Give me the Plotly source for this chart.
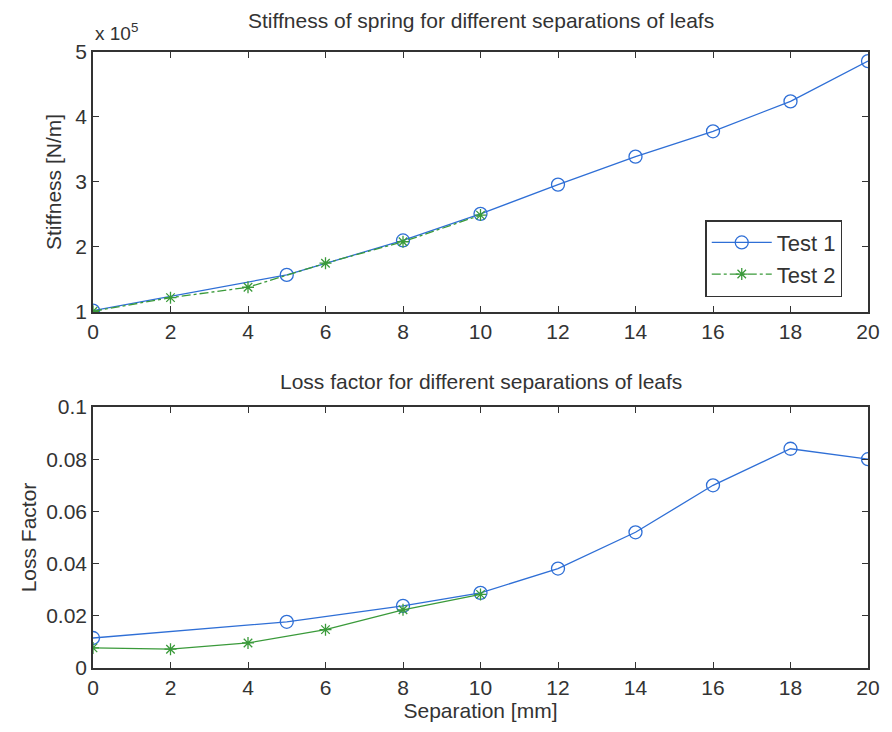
import plotly.graph_objects as go
from plotly.subplots import make_subplots

# Data
sep_test1 = [0, 5, 8, 10, 12, 14, 16, 18, 20]
stiff_test1 = [1.02e5, 1.57e5, 2.10e5, 2.51e5, 2.96e5, 3.39e5, 3.78e5, 4.24e5, 4.86e5]
loss_test1 = [0.0115, 0.0177, 0.0238, 0.0288, 0.0381, 0.052, 0.070, 0.084, 0.080]

sep_test2 = [0, 2, 4, 6, 8, 10]
stiff_test2 = [1.01e5, 1.22e5, 1.38e5, 1.75e5, 2.08e5, 2.49e5]
loss_test2 = [0.0077, 0.0072, 0.0096, 0.0147, 0.0223, 0.0282]

x_ticks = list(range(0, 21, 2))

BLUE = "#2f6fd6"
GREEN = "#3a9a3a"
INK = "#333333"
FONT = "Liberation Sans, Arial, sans-serif"

fig = make_subplots(rows=2, cols=1, vertical_spacing=0.1545)

fig.add_trace(go.Scatter(x=sep_test1, y=stiff_test1, mode="lines+markers", name="Test 1",
                         line=dict(color=BLUE, width=1.3),
                         marker=dict(symbol="circle-open", size=13, color=BLUE, line=dict(width=1.3))),
              row=1, col=1)
fig.add_trace(go.Scatter(x=sep_test2, y=stiff_test2, mode="lines+markers", name="Test 2",
                         line=dict(color=GREEN, width=1.3, dash="dashdot"),
                         marker=dict(symbol="asterisk-open", size=10, color=GREEN, line=dict(width=1.3, color=GREEN))),
              row=1, col=1)
fig.add_trace(go.Scatter(x=sep_test1, y=loss_test1, mode="lines+markers", name="Test 1", showlegend=False,
                         line=dict(color=BLUE, width=1.3),
                         marker=dict(symbol="circle-open", size=13, color=BLUE, line=dict(width=1.3))),
              row=2, col=1)
fig.add_trace(go.Scatter(x=sep_test2, y=loss_test2, mode="lines+markers", name="Test 2", showlegend=False,
                         line=dict(color=GREEN, width=1.3),
                         marker=dict(symbol="asterisk-open", size=10, color=GREEN, line=dict(width=1.3, color=GREEN))),
              row=2, col=1)

axis_common = dict(showline=True, linecolor=INK, linewidth=1.5, mirror="allticks",
                   ticks="inside", ticklen=6, tickcolor=INK, showgrid=False, zeroline=False,
                   tickfont=dict(size=21, color=INK, family=FONT))

fig.update_xaxes(range=[0, 20], tickvals=x_ticks, domain=[0, 1], **axis_common)
fig.update_yaxes(**axis_common)

fig.update_yaxes(range=[1e5, 5e5], tickvals=[1e5, 2e5, 3e5, 4e5, 5e5], ticktext=["1", "2", "3", "4", "5"],
                 domain=[0.578, 1.0], row=1, col=1,
                 title=dict(text="Stiffness [N/m]", font=dict(size=21, color=INK, family=FONT), standoff=8))
fig.update_yaxes(range=[0, 0.1], tickvals=[0, 0.02, 0.04, 0.06, 0.08, 0.1],
                 ticktext=["0", "0.02", "0.04", "0.06", "0.08", "0.1"],
                 domain=[0.0, 0.4237], row=2, col=1,
                 title=dict(text="Loss Factor", font=dict(size=21, color=INK, family=FONT), standoff=4))
fig.update_xaxes(row=2, col=1,
                 title=dict(text="Separation [mm]", font=dict(size=21, color=INK, family=FONT), standoff=2))

fig.add_annotation(text="x 10<sup>5</sup>", xref="paper", yref="paper", x=0.0, y=1.0,
                   xanchor="left", yanchor="bottom", yshift=6, showarrow=False,
                   font=dict(size=19, color=INK, family=FONT))
fig.add_annotation(text="Stiffness of spring for different separations of leafs", xref="paper", yref="paper",
                   x=0.5, y=1.0, xanchor="center", yanchor="bottom", yshift=18, showarrow=False,
                   font=dict(size=21, color=INK, family=FONT))
fig.add_annotation(text="Loss factor for different separations of leafs", xref="paper", yref="paper",
                   x=0.5, y=0.4237, xanchor="center", yanchor="bottom", yshift=12, showarrow=False,
                   font=dict(size=21, color=INK, family=FONT))

fig.update_layout(
    width=892, height=732,
    margin=dict(l=93, r=14, t=52, b=64),
    paper_bgcolor="white", plot_bgcolor="white",
    showlegend=True,
    legend=dict(x=0.79, y=0.727, xanchor="left", yanchor="top",
                bordercolor=INK, borderwidth=1.5, bgcolor="white",
                font=dict(size=22, color=INK, family=FONT),
                tracegroupgap=0, itemwidth=60),
)

fig.write_html("out.html")
